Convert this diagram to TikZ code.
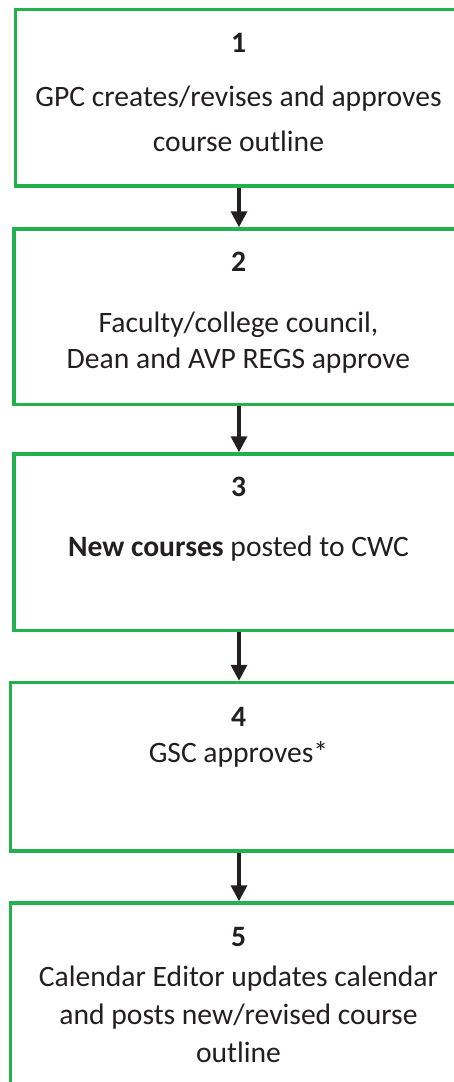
\documentclass[tikz,border=0pt]{standalone}
\usepackage{fontspec}
\setmainfont{Carlito}
\usetikzlibrary{arrows.meta}
\definecolor{stageGreen}{RGB}{34,177,76}
\definecolor{inkGray}{RGB}{35,31,32}

\begin{document}
\begin{tikzpicture}
[x=0.5pt,y=-0.5pt,
  boxDecorate/.style={shape=rectangle,draw=stageGreen,line width=1.75pt,inner sep=0pt},
  numberDecorate/.style={anchor=base,inner sep=0pt,text=inkGray,font=\fontsize{14.8}{18}\selectfont\bfseries},
  textDecorate/.style={anchor=base,inner sep=0pt,align=center,text=inkGray},
  lineDecorate/.style={-{Triangle[width=8pt,length=8pt]},line width=1.75pt,draw=inkGray}]
%%
%% page frame, boxes run off the right and bottom edge
\clip (0,0) rectangle (454,1082);
%%
%% stage boxes
\foreach \nodename/\y/\w/\h in {
  1/97.75/447/176.5, 2/316.75/450.4/175.5, 3/542.25/450.4/176.5,
  4/766.75/456.6/168.5, 5/1006.5/457/207}
{
  \node (box\nodename) at (239,\y) [boxDecorate,minimum width=\w*0.5pt,minimum height=\h*0.5pt] {};
}
%% stage numbers
\foreach \nodename/\y in {1/52, 2/271, 3/496.5, 4/726, 5/946}
{
  \node (num\nodename) at (238.5,\y) [numberDecorate] {\nodename};
}
%% stage texts (base = last line)
\node (txt1) at (238.5,151.5) [textDecorate,font=\fontsize{14.8}{22.75}\selectfont]
  {GPC creates/revises and approves\\course outline};
\node (txt2) at (238.5,368) [textDecorate,font=\fontsize{14.8}{18}\selectfont]
  {Faculty/college council,\\Dean and AVP REGS approve};
\node (txt3) at (238.5,556.5) [textDecorate,font=\fontsize{14.8}{18}\selectfont]
  {\textbf{New courses} posted to CWC};
\node (txt4) at (238.5,762) [textDecorate,font=\fontsize{14.8}{18}\selectfont]
  {GSC approves*};
\node (txt5) at (238.5,1062.7) [textDecorate,font=\fontsize{14.8}{19}\selectfont]
  {Calendar Editor updates calendar\\and posts new/revised course\\outline};
%%
%% flow between stages
\path
\foreach \startnode/\endnode in {1/2, 2/3, 3/4, 4/5}
{
  (box\startnode) edge[lineDecorate] (box\endnode)
};
\end{tikzpicture}
\end{document}
